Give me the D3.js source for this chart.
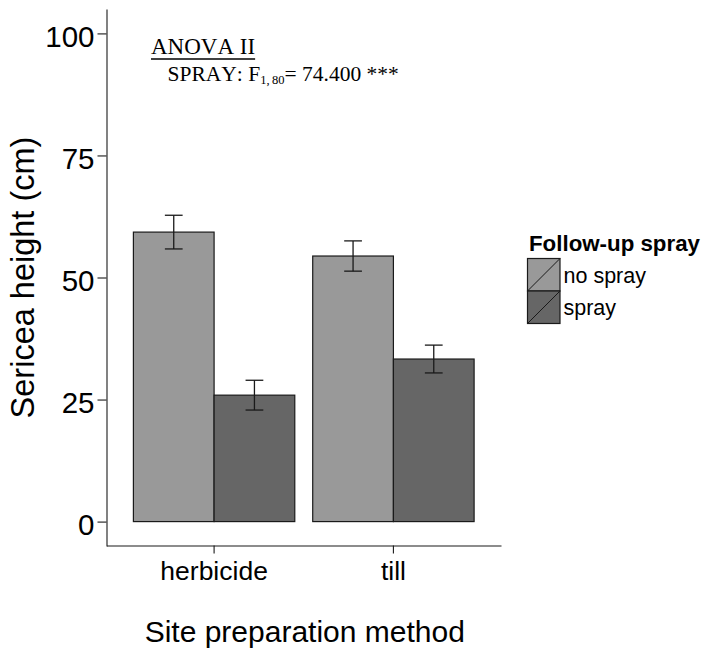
<!DOCTYPE html>
<html>
<head>
<meta charset="utf-8">
<script src="https://cdn.jsdelivr.net/npm/d3@7"></script>
<style>
  html, body { margin: 0; padding: 0; background: #fff; }
  svg { display: block; }
  text { font-kerning: none; }
</style>
</head>
<body>
<svg id="chart" width="707" height="654"></svg>
<script>
// Site preparation methods on the x axis
const categories = ["herbicide", "till"];
// Follow-up spray treatments (legend groups)
const series = ["no spray", "spray"];
// Mean sericea height (cm) per method, for each treatment
const noSprayMeans = [59.3, 54.4];
const sprayMeans = [25.9, 33.3];
// Standard errors for the error bars
const noSprayErrors = [3.45, 3.1];
const sprayErrors = [3.05, 2.85];
// Y axis ticks
const yTicks = [0, 25, 50, 75, 100];

const fills = { "no spray": "#999999", "spray": "#666666" };
const ink = "#1a1a1a";

const rows = categories.map((c, i) => ({
  category: c,
  values: [
    { series: series[0], mean: noSprayMeans[i], se: noSprayErrors[i] },
    { series: series[1], mean: sprayMeans[i], se: sprayErrors[i] }
  ]
}));

const svg = d3.select("#chart");

const panel = { left: 106.5, right: 501, top: 9, bottom: 545.5 };

const x = d3.scaleBand()
  .domain(categories)
  .range([panel.left, panel.right])
  .paddingInner(0.1)
  .paddingOuter(0.15);

const xInner = d3.scaleBand()
  .domain(series)
  .range([0, x.bandwidth()])
  .padding(0);

const y = d3.scaleLinear()
  .domain([-5, 105])
  .range([546, panel.top]);

// Bars
const groups = svg.append("g")
  .selectAll("g")
  .data(rows)
  .join("g")
  .attr("transform", d => `translate(${x(d.category)},0)`);

groups.selectAll("rect")
  .data(d => d.values)
  .join("rect")
  .attr("x", d => xInner(d.series))
  .attr("y", d => y(d.mean))
  .attr("width", xInner.bandwidth())
  .attr("height", d => y(0) - y(d.mean))
  .attr("fill", d => fills[d.series])
  .attr("stroke", ink)
  .attr("stroke-width", 1.2);

// Error bars (mean ± SE)
const capW = xInner.bandwidth() * 0.22;
const eb = groups.selectAll("g.err")
  .data(d => d.values)
  .join("g")
  .attr("class", "err")
  .attr("stroke", ink)
  .attr("stroke-width", 1.3)
  .attr("fill", "none");

eb.append("line")
  .attr("x1", d => xInner(d.series) + xInner.bandwidth() / 2)
  .attr("x2", d => xInner(d.series) + xInner.bandwidth() / 2)
  .attr("y1", d => y(d.mean + d.se))
  .attr("y2", d => y(d.mean - d.se));
eb.append("line")
  .attr("x1", d => xInner(d.series) + xInner.bandwidth() / 2 - capW / 2)
  .attr("x2", d => xInner(d.series) + xInner.bandwidth() / 2 + capW / 2)
  .attr("y1", d => y(d.mean + d.se))
  .attr("y2", d => y(d.mean + d.se));
eb.append("line")
  .attr("x1", d => xInner(d.series) + xInner.bandwidth() / 2 - capW / 2)
  .attr("x2", d => xInner(d.series) + xInner.bandwidth() / 2 + capW / 2)
  .attr("y1", d => y(d.mean - d.se))
  .attr("y2", d => y(d.mean - d.se));

// Axes
const yAxis = svg.append("g")
  .attr("transform", `translate(${panel.left},0)`)
  .call(d3.axisLeft(y).tickValues(yTicks).tickSize(9).tickSizeOuter(0).tickPadding(3));
yAxis.selectAll("text")
  .attr("dy", "0.44em")
  .attr("font-family", "'Liberation Sans', Arial, sans-serif")
  .attr("font-size", 29.5)
  .attr("fill", "#000");

const xAxis = svg.append("g")
  .attr("transform", `translate(0,${panel.bottom})`)
  .call(d3.axisBottom(x).tickSize(8).tickSizeOuter(0).tickPadding(8));
xAxis.selectAll("text")
  .attr("font-family", "'Liberation Sans', Arial, sans-serif")
  .attr("font-size", 26.5)
  .attr("fill", "#000");

[yAxis, xAxis].forEach(a => {
  a.select(".domain").attr("stroke", ink).attr("stroke-width", 1.1);
  a.selectAll(".tick line").attr("stroke", ink).attr("stroke-width", 1.1);
});

// Axis titles
svg.append("text")
  .attr("x", (panel.left + panel.right) / 2 + 1)
  .attr("y", 642)
  .attr("text-anchor", "middle")
  .attr("font-family", "'Liberation Sans', Arial, sans-serif")
  .attr("font-size", 30)
  .attr("fill", "#000")
  .text("Site preparation method");

svg.append("text")
  .attr("transform", `translate(34,${(546 + panel.top) / 2}) rotate(-90)`)
  .attr("text-anchor", "middle")
  .attr("font-family", "'Liberation Sans', Arial, sans-serif")
  .attr("font-size", 32.5)
  .attr("fill", "#000")
  .text("Sericea height (cm)");

// ANOVA annotation
const serif = "'Liberation Serif', 'Times New Roman', serif";
const anovaTitle = svg.append("text")
  .attr("x", 151)
  .attr("y", 54)
  .attr("font-family", serif)
  .attr("font-size", 23)
  .attr("fill", "#000")
  .text("ANOVA II");
const tb = anovaTitle.node().getBBox();
svg.append("line")
  .attr("x1", tb.x)
  .attr("x2", tb.x + tb.width)
  .attr("y1", 59)
  .attr("y2", 59)
  .attr("stroke", "#000")
  .attr("stroke-width", 1.4);

const stat = svg.append("text")
  .attr("x", 167.5)
  .attr("y", 81)
  .attr("font-family", serif)
  .attr("font-size", 21.5)
  .attr("fill", "#000");
stat.append("tspan").text("SPRAY: F");
stat.append("tspan").attr("font-size", 12.5).attr("dy", 3).text("1,\u200980");
stat.append("tspan").attr("dy", -3).text("= 74.400 ***");

// Legend
const legend = svg.append("g");
legend.append("text")
  .attr("x", 529)
  .attr("y", 251)
  .attr("font-family", "'Liberation Sans', Arial, sans-serif")
  .attr("font-weight", "bold")
  .attr("font-size", 22.3)
  .attr("fill", "#000")
  .text("Follow-up spray");

const keyY = d3.scaleBand().domain(series).range([258.5, 323.5]);
const keyX0 = 527.5, keyW = 32.5;
const keys = legend.selectAll("g.key")
  .data(series)
  .join("g")
  .attr("class", "key")
  .attr("transform", d => `translate(${keyX0},${keyY(d)})`);
keys.append("rect")
  .attr("width", keyW)
  .attr("height", keyY.bandwidth())
  .attr("fill", d => fills[d])
  .attr("stroke", ink)
  .attr("stroke-width", 1.2);
keys.append("line")
  .attr("x1", 0)
  .attr("y1", keyY.bandwidth())
  .attr("x2", keyW)
  .attr("y2", 0)
  .attr("stroke", ink)
  .attr("stroke-width", 1);
keys.append("text")
  .attr("x", keyW + 3.5)
  .attr("y", keyY.bandwidth() / 2 + 7.8)
  .attr("font-family", "'Liberation Sans', Arial, sans-serif")
  .attr("font-size", 21.5)
  .attr("fill", "#000")
  .text(d => d);
</script>
</body>
</html>
